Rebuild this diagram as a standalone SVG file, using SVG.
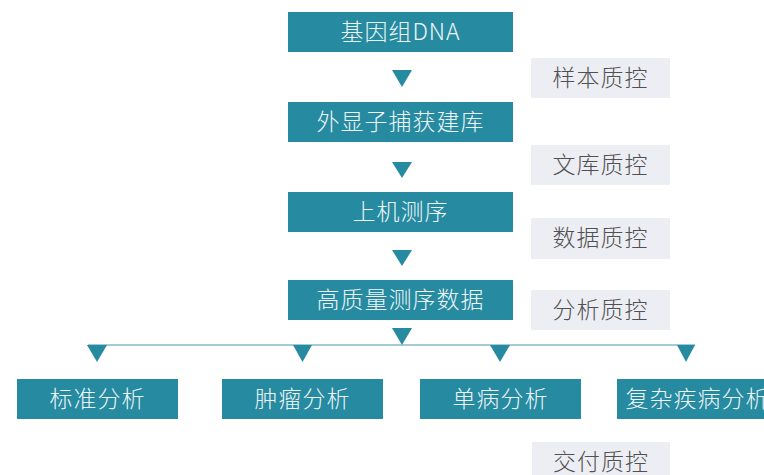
<svg xmlns="http://www.w3.org/2000/svg" width="764" height="475" viewBox="0 0 764 475">
<defs>
<style>
.box{fill:#268aa0;}
.qc{fill:#eceef4;}
.bt{font-family:"Noto Sans CJK SC","Noto Sans",sans-serif;font-size:23px;font-weight:300;fill:#eef5f7;text-anchor:middle;letter-spacing:1px;}
.qt{font-family:"Noto Sans CJK SC","Noto Sans",sans-serif;font-size:23px;font-weight:300;fill:#505050;text-anchor:middle;letter-spacing:1px;}
.tri{fill:#268aa0;}
.ln{stroke:#4f95ab;stroke-width:1.2;fill:none;}
</style>
</defs>
<rect width="764" height="475" fill="#ffffff"/>
<g id="connectors">
<polygon class="tri" points="392,70 412,70 402,87"/>
<polygon class="tri" points="392,162 412,162 402,178"/>
<polygon class="tri" points="392,250 412,250 402,266"/>
<polygon class="tri" points="392,328 412,328 402,345"/>
<line class="ln" x1="88" y1="345" x2="695" y2="345"/>
<polygon class="tri" points="87,345 107,345 97,362"/>
<polygon class="tri" points="293,345 312,345 302.5,362"/>
<polygon class="tri" points="490,345 510,345 500,362"/>
<polygon class="tri" points="677,345 695,345 686,362"/>
</g>
<g id="n1"><rect class="box" x="288" y="12" width="225" height="40"/><text class="bt" x="400.5" y="40">基因组DNA</text></g>
<g id="n2"><rect class="box" x="288" y="102" width="225" height="40"/><text class="bt" x="400.5" y="130">外显子捕获建库</text></g>
<g id="n3"><rect class="box" x="288" y="192" width="225" height="40"/><text class="bt" x="400.5" y="220">上机测序</text></g>
<g id="n4"><rect class="box" x="288" y="280" width="225" height="40"/><text class="bt" x="400.5" y="308">高质量测序数据</text></g>
<g id="q1"><rect class="qc" x="531" y="58" width="139" height="40"/><text class="qt" x="600.5" y="86">样本质控</text></g>
<g id="q2"><rect class="qc" x="531" y="145" width="139" height="40"/><text class="qt" x="600.5" y="173">文库质控</text></g>
<g id="q3"><rect class="qc" x="531" y="218" width="139" height="41"/><text class="qt" x="600.5" y="246">数据质控</text></g>
<g id="q4"><rect class="qc" x="531" y="290" width="139" height="40"/><text class="qt" x="600.5" y="318">分析质控</text></g>
<g id="q5"><rect class="qc" x="532" y="442" width="138" height="40"/><text class="qt" x="601" y="470">交付质控</text></g>
<g id="b1"><rect class="box" x="17" y="379" width="161" height="40"/><text class="bt" x="97.5" y="407">标准分析</text></g>
<g id="b2"><rect class="box" x="222" y="379" width="161" height="40"/><text class="bt" x="302.5" y="407">肿瘤分析</text></g>
<g id="b3"><rect class="box" x="420" y="379" width="161" height="40"/><text class="bt" x="500.5" y="407">单病分析</text></g>
<g id="b4"><rect class="box" x="617" y="379" width="161" height="40"/><text class="bt" x="697.5" y="407">复杂疾病分析</text></g>
</svg>
